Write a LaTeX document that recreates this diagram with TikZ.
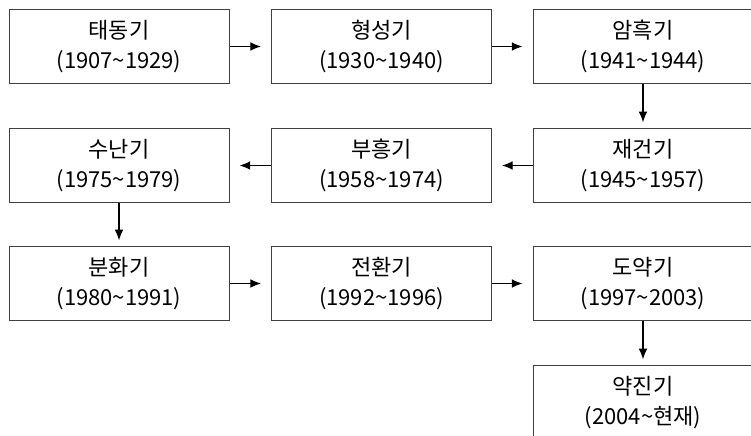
\documentclass[tikz,border=0pt]{standalone}
\usepackage{fontspec}
\setmainfont{Noto Sans CJK KR}
\usetikzlibrary{arrows.meta, positioning}

\tikzset{
  period/.style={draw=black!75, line width=0.75pt, minimum width=165pt,
    minimum height=56pt, align=center, inner sep=2pt,
    font=\fontsize{16.5}{23}\selectfont},
  flow/.style={line width=0.8pt, -{Latex[length=8pt,width=6.5pt]}},
  hflow/.style={flow, shorten >=7.5pt},
  vflow/.style={flow, shorten >=4pt}
}

\begin{document}
\begin{tikzpicture}[x=0.75pt, y=-0.75pt]
  \useasboundingbox (0,0) rectangle (751,436);
  \clip (0,0) rectangle (751,436);

  % Nodes
  \node[period] (tae)   at (119, 46.5)   {태동기\\(1907\textasciitilde{}1929)};
  \node[period] (hyeong) at (381.5, 46.5) {형성기\\(1930\textasciitilde{}1940)};
  \node[period] (am)    at (643, 46.5)   {암흑기\\(1941\textasciitilde{}1944)};
  \node[period] (jae)   at (643, 165.5)  {재건기\\(1945\textasciitilde{}1957)};
  \node[period] (bu)    at (381.5, 165.5) {부흥기\\(1958\textasciitilde{}1974)};
  \node[period] (su)    at (119, 165.5)  {수난기\\(1975\textasciitilde{}1979)};
  \node[period] (bun)   at (119, 283.5)  {분화기\\(1980\textasciitilde{}1991)};
  \node[period] (jeon)  at (381.5, 283.5) {전환기\\(1992\textasciitilde{}1996)};
  \node[period] (do)    at (643, 283.5)  {도약기\\(1997\textasciitilde{}2003)};
  \node[period] (yak)   at (643, 402.5)  {약진기\\(2004\textasciitilde{}현재)};

  % Edges
  \draw[hflow] (tae) -- (hyeong);
  \draw[hflow] (hyeong) -- (am);
  \draw[vflow] (am) -- (jae);
  \draw[hflow] (jae) -- (bu);
  \draw[hflow] (bu) -- (su);
  \draw[vflow] (su) -- (bun);
  \draw[hflow] (bun) -- (jeon);
  \draw[hflow] (jeon) -- (do);
  \draw[vflow] (do) -- (yak);

\end{tikzpicture}
\end{document}
